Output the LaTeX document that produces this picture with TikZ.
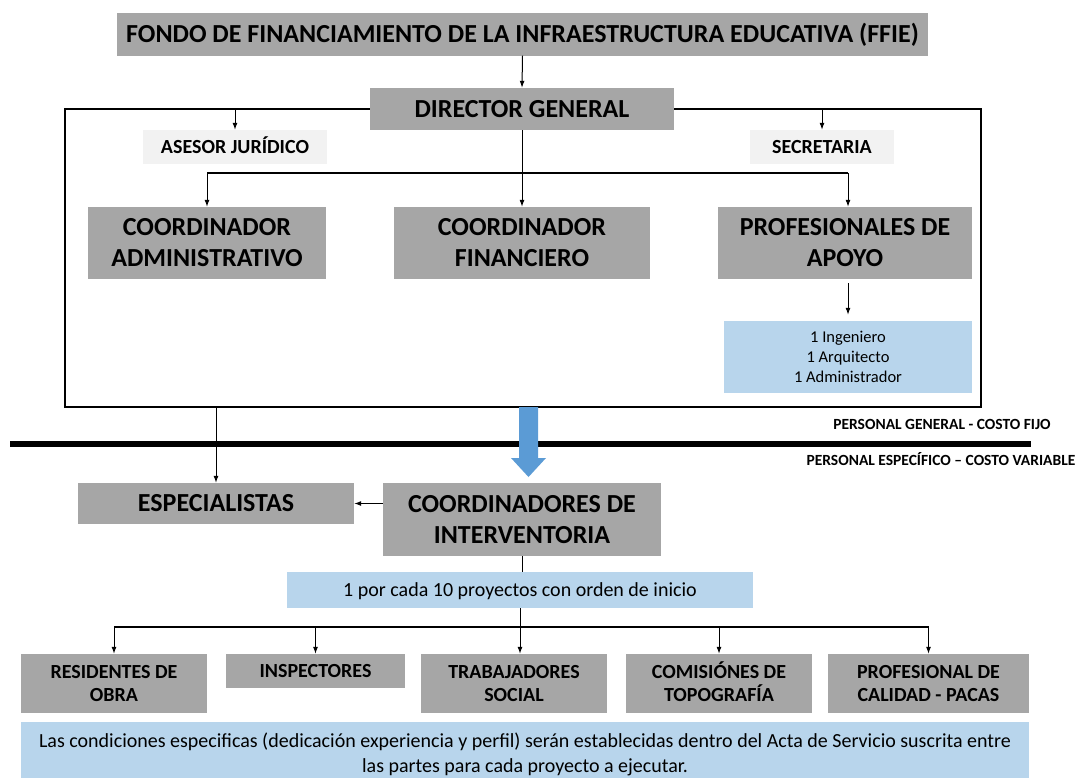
\documentclass[tikz,border=0pt]{standalone}
\usepackage{fontspec}
\setmainfont{Carlito}
\usetikzlibrary{arrows.meta}
\definecolor{boxgray}{HTML}{A6A6A6}
\definecolor{lightgray}{HTML}{F2F2F2}
\definecolor{lightblue}{HTML}{B8D5EC}
\definecolor{arrowblue}{HTML}{5B9BD5}
% one line of text, vertically centred on its capitals
\newcommand\tline[1]{\smash{\raisebox{-0.316em}{#1}}}
\tikzset{
  gbox/.style={fill=boxgray, inner sep=0pt, align=center, font=\bfseries},
  lgbox/.style={fill=lightgray, inner sep=0pt, align=center, font=\bfseries\fontsize{20}{24}\selectfont},
  lbbox/.style={fill=lightblue, inner sep=0pt, align=center},
  arr/.style={-{Latex[length=7pt,width=5pt]}, line width=1pt},
  conn/.style={line width=1pt},
  frameline/.style={line width=1.8pt},
  big/.style={font=\bfseries\fontsize{26}{31}\selectfont},
  small/.style={font=\bfseries\fontsize{20}{23}\selectfont},
  note/.style={font=\bfseries\fontsize{15.5}{18}\selectfont, inner sep=0pt}
}
\begin{document}
\begin{tikzpicture}[x=1pt,y=-1pt]
\useasboundingbox (0,0) rectangle (1082,777);
% top
\node[gbox, big, minimum width=811, minimum height=43] (ffie) at (522.5,34) {\tline{FONDO DE FINANCIAMIENTO DE LA INFRAESTRUCTURA EDUCATIVA (FFIE)}};
\node[gbox, big, minimum width=304, minimum height=42] (dg) at (522,109) {\tline{DIRECTOR GENERAL}};
\node[lgbox, minimum width=184, minimum height=34] (ase) at (235,147) {\tline{ASESOR JURÍDICO}};
\node[lgbox, minimum width=144, minimum height=34] (sec) at (822,147) {\tline{SECRETARIA}};
\node[gbox, big, minimum width=238, minimum height=72] (ca) at (207,243) {\tline{COORDINADOR}\\\tline{ADMINISTRATIVO}};
\node[gbox, big, minimum width=256, minimum height=72] (cf) at (522,243) {\tline{COORDINADOR}\\\tline{FINANCIERO}};
\node[gbox, big, minimum width=254, minimum height=72] (pa) at (845,243) {\tline{PROFESIONALES DE}\\\tline{APOYO}};
\node[lbbox, minimum width=248, minimum height=72, font=\fontsize{16.5}{20}\selectfont] (ing) at (848,357) {\tline{1 Ingeniero}\\\tline{1 Arquitecto}\\\tline{1 Administrador}};
% frame
\coordinate (ftl) at (65,109);
\coordinate (fbl) at (65,407);
\coordinate (fbr) at (981,407);
\coordinate (ftr) at (981,109);
\draw[frameline] (dg.west) -- (ftl) -- (fbl) -- (fbr) -- (ftr) -- (dg.east);
\draw[arr] (ffie.south) -- (dg.north);
\draw[arr] (ase.north |- ftl) -- (ase.north);
\draw[arr] (sec.north |- ftr) -- (sec.north);
\coordinate (br1) at (522,173);
\draw[arr] (dg.south) -- (cf.north);
\draw[conn, line width=1.5pt] (ca.north |- br1) -- (ing.north |- br1);
\draw[arr] (br1) -| (ca.north);
\draw[arr] (ing.north |- br1) -- (ing.north |- pa.north);
\draw[arr] ([yshift=-4pt]pa.south -| ing.north) -- ([yshift=6pt]ing.north);
% divider
\coordinate (dl) at (10,444);
\coordinate (dr) at (1031,444);
\draw[line width=6pt] (dl) -- (dr);
\node[note] (pg) at (942,425) {\tline{PERSONAL GENERAL - COSTO FIJO}};
\node[note] (pe) at (941,461) {\tline{PERSONAL ESPECÍFICO – COSTO VARIABLE}};
% blue block arrow
\fill[arrowblue] (519,407) -- (538,407) -- (538,458) -- (546,458) -- (528.5,477) -- (511,458) -- (519,458) -- cycle;
% lower
\node[gbox, big, minimum width=276, minimum height=41] (esp) at (216,503.5) {\tline{ESPECIALISTAS}};
\node[gbox, big, minimum width=278, minimum height=73] (ci) at (522,519.5) {\tline{COORDINADORES DE}\\\tline{INTERVENTORIA}};
\node[lbbox, minimum width=466, minimum height=36, font=\fontsize{20}{24}\selectfont] (uno) at (520,590) {\tline{1 por cada 10 proyectos con orden de inicio}};
\draw[arr] (esp.north |- fbl) -- (esp.north);
\draw[arr] (ci.west |- esp.east) -- (esp.east);
\draw[conn] (ci.south) -- (ci.south |- uno.north);
\node[gbox, small, minimum width=186, minimum height=59] (res) at (114,683.5) {\tline{RESIDENTES DE}\\\tline{OBRA}};
\node[gbox, small, minimum width=179, minimum height=34] (insp) at (315.5,671) {\tline{INSPECTORES}};
\node[gbox, small, minimum width=186, minimum height=59] (trab) at (514,683.5) {\tline{TRABAJADORES}\\\tline{SOCIAL}};
\node[gbox, small, minimum width=186, minimum height=59] (com) at (719,683.5) {\tline{COMISIÓNES DE}\\\tline{TOPOGRAFÍA}};
\node[gbox, small, minimum width=201, minimum height=59] (prof) at (928.5,683.5) {\tline{PROFESIONAL DE}\\\tline{CALIDAD - PACAS}};
\node[lbbox, minimum width=1008, minimum height=64, font=\fontsize{20}{25}\selectfont] (cond) at (525,754) {\tline{Las condiciones especificas (dedicación experiencia y perfil) serán establecidas dentro del Acta de Servicio suscrita entre}\\\tline{las partes para cada proyecto a ejecutar.}};
\coordinate (br2) at (520,627);
\draw[line width=1.5pt] (res.north |- br2) -- (prof.north |- br2);
\draw[arr] (uno.south) -- (uno.south |- trab.north);
\draw[arr] (br2 -| res.north) -- (res.north);
\draw[arr] (br2 -| insp.north) -- (insp.north);
\draw[arr] (br2 -| com.north) -- (com.north);
\draw[arr] (br2 -| prof.north) -- (prof.north);
\end{tikzpicture}
\end{document}
